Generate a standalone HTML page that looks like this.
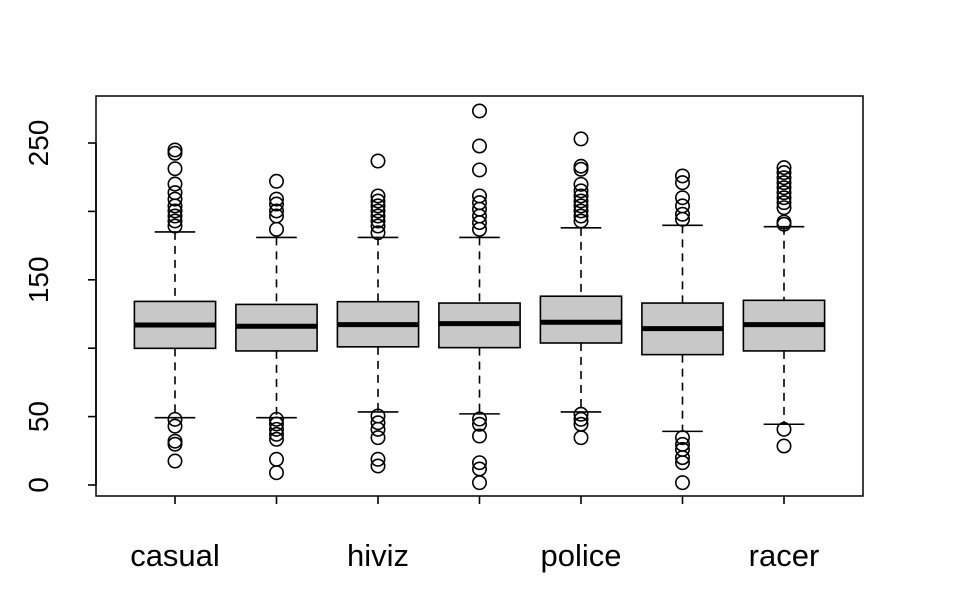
<!DOCTYPE html>
<html><head><meta charset="utf-8"><style>
html,body{margin:0;padding:0;background:#fff;}
svg{display:block;font-family:"Liberation Sans",sans-serif;}
</style></head><body>
<svg id="chart" width="960" height="593" viewBox="0 0 960 593" xmlns="http://www.w3.org/2000/svg">
<rect x="96" y="96" width="767" height="400" fill="none" stroke="#000" stroke-width="1.5"/>
<g id="marks"></g>
<g id="axes"></g>
</svg>
<script>
const categories = ["casual","commute","hiviz","novice","police","polite","racer"];
const shownLabels = ["casual","","hiviz","","police","","racer"];
const q1 = [99.9, 98, 101, 100.4, 103.8, 95.3, 98];
const medians = [117, 116, 117.2, 118, 119, 114.3, 117.2];
const q3 = [134.2, 132, 134, 133, 138, 133, 135];
const whiskLo = [49.2, 49.2, 53.4, 52, 53.4, 39.2, 44.4];
const whiskHi = [185, 181, 181, 181, 188, 189.8, 188.8];
const outliers = [
  [244.9,242.5,231.2,220,213.7,209,204,200.3,196.6,193,189.3,48,43,32,29.8,17.5],
  [222,209,205.4,200.3,196.6,186.9,48,44.6,40.7,37,33.4,18.8,9],
  [236.8,211.3,207.6,204,200.3,196.6,193,189.3,184.4,50.4,45.5,40.7,34.6,18.8,13.9],
  [273.4,247.8,230.3,211.3,206.4,201.6,196.6,191.8,186.9,48.2,44.4,35.8,16.3,11.7,1.7],
  [253,233,230.8,219.8,215,211.3,207.6,204,200.3,196.6,193,51.7,48,44.4,34.6],
  [225.9,221,210,204,197.9,194.2,34.6,29.7,26,20,16.3,1.7],
  [232,228.3,224.6,221,217.3,213.7,210,206.4,202.7,192.2,190.6,40.7,28.5]
];
const yTicks = [0,50,100,150,200,250];
const yTickLabels = ["0","50","","150","","250"];

const NS="http://www.w3.org/2000/svg";
function xS(i){return 175+i*101.5;}
function yS(v){return 485-1.368*v;}
function mk(tag,attrs,parent){const e=document.createElementNS(NS,tag);for(const k in attrs)e.setAttribute(k,attrs[k]);parent.appendChild(e);return e;}
const marks=document.getElementById('marks');
const axes=document.getElementById('axes');
const hw=40.6, cw=20.3, sw=1.6;
categories.forEach((c,i)=>{
  const g=mk('g',{},marks);
  
  
  const x=xS(i);
  const l1=mk('line',{x1:x,x2:x,y1:yS(whiskHi[i]),y2:yS(q3[i]),stroke:'#000','stroke-width':sw,'stroke-dasharray':'8,6'},g);
  
  
  const l2=mk('line',{x1:x,x2:x,y1:yS(q1[i]),y2:yS(whiskLo[i]),stroke:'#000','stroke-width':sw,'stroke-dasharray':'8,6'},g);
  
  
  const c1=mk('line',{x1:x-cw,x2:x+cw,y1:yS(whiskHi[i]),y2:yS(whiskHi[i]),stroke:'#000','stroke-width':sw},g);
  
  
  const c2=mk('line',{x1:x-cw,x2:x+cw,y1:yS(whiskLo[i]),y2:yS(whiskLo[i]),stroke:'#000','stroke-width':sw},g);
  
  
  const r=mk('rect',{x:x-hw,y:yS(q3[i]),width:2*hw,height:yS(q1[i])-yS(q3[i]),fill:'#c8c8c8',stroke:'#000','stroke-width':sw},g);
  
  
  const m=mk('line',{x1:x-hw,x2:x+hw,y1:yS(medians[i]),y2:yS(medians[i]),stroke:'#000','stroke-width':5},g);
  
  
  outliers[i].forEach(v=>{
    const o=mk('circle',{cx:x,cy:yS(v),r:6.7,fill:'none',stroke:'#000','stroke-width':sw},g);
    
    
  });
  const t=mk('line',{x1:x,x2:x,y1:496,y2:504,stroke:'#000','stroke-width':sw},axes);
  
  
  if(shownLabels[i]){
    const tx=mk('text',{x:x,y:566,'text-anchor':'middle','font-size':31},axes);
    tx.textContent=shownLabels[i];
    
    
  }
});
const ya=mk('line',{x1:96,x2:96,y1:yS(0),y2:yS(250),stroke:'#000','stroke-width':sw},axes);


yTicks.forEach((v,k)=>{
  const y=yS(v);
  const t=mk('line',{x1:88,x2:96,y1:y,y2:y,stroke:'#000','stroke-width':sw},axes);
  
  
  if(yTickLabels[k]){
    const tx=mk('text',{x:0,y:0,'text-anchor':'middle','font-size':28,transform:`translate(48,${y}) rotate(-90)`},axes);
    tx.textContent=yTickLabels[k];
    
    
  }
});
</script>
</body></html>
